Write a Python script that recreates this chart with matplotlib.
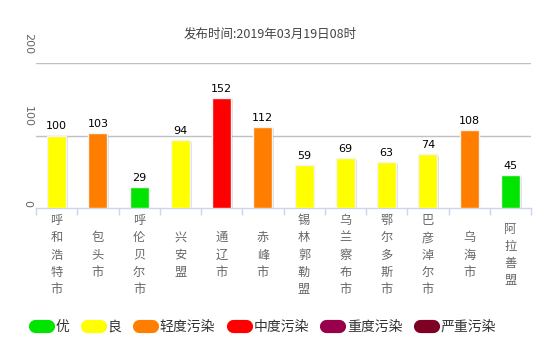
import matplotlib
matplotlib.use('Agg')
import matplotlib.pyplot as plt
import matplotlib.patheffects as pe
from matplotlib.lines import Line2D

plt.rcParams['font.family'] = ['Noto Sans CJK SC', 'DejaVu Sans']

cities = ['呼和浩特市', '包头市', '呼伦贝尔市', '兴安盟', '通辽市', '赤峰市',
          '锡林郭勒盟', '乌兰察布市', '鄂尔多斯市', '巴彦淖尔市', '乌海市', '阿拉善盟']
aqi = [100, 103, 29, 94, 152, 112, 59, 69, 63, 74, 108, 45]
levels = ['良', '轻度污染', '优', '良', '中度污染', '轻度污染',
          '良', '良', '良', '良', '轻度污染', '优']

level_names = ['优', '良', '轻度污染', '中度污染', '重度污染', '严重污染']
level_colors = ['#00E400', '#FFFF00', '#FF7E00', '#FF0000', '#99004C', '#7E0023']
color_of = dict(zip(level_names, level_colors))

fig = plt.figure(figsize=(5.44, 3.46), dpi=100)
W, H = 544, 346
ax = fig.add_axes([36 / W, (H - 208) / H, 495 / W, (208 - 63) / H])

x = list(range(len(cities)))
bars = ax.bar(x, aqi, width=0.46, color=[color_of[l] for l in levels],
              edgecolor='#f4f4f4', linewidth=1.0, zorder=3)
for b in bars:
    b.set_path_effects([pe.SimplePatchShadow(offset=(1.2, -1.2), shadow_rgbFace='#000000', alpha=0.12),
                        pe.Normal()])

for xi, v in zip(x, aqi):
    ax.annotate(str(v), (xi, v), xytext=(0, 3), textcoords='offset points',
                ha='center', va='bottom', fontsize=8, color='#000000',
                family=['DejaVu Sans'], zorder=4)

ax.set_xlim(-0.5, len(cities) - 0.5)
ax.set_ylim(0, 200)

for gy in [100, 200]:
    ax.axhline(gy, color='#c0c0c0', linewidth=1, zorder=1)

for s in ['top', 'right', 'left']:
    ax.spines[s].set_visible(False)
ax.spines['bottom'].set_color('#ccd6eb')
ax.spines['bottom'].set_linewidth(1)

ax.set_yticks([])
ax.set_xticks([i - 0.5 for i in range(len(cities) + 1)])
ax.set_xticklabels([])
ax.tick_params(axis='x', length=5, color='#ccd6eb', width=1)

# y-axis labels, rotated
for v in [0, 100, 200]:
    off = 1 if v == 0 else 9
    ax.annotate(str(v), (0, v), xycoords=('axes fraction', 'data'),
                xytext=(-6, off * 0.72), textcoords='offset points',
                rotation=-90, ha='center', va='bottom', fontsize=8,
                color='#666666', family=['DejaVu Sans'])

# vertical category labels
for xi, name in zip(x, cities):
    ax.annotate('\n'.join(name), (xi, 0), xycoords='data',
                xytext=(0, -47 * 0.72), textcoords='offset points',
                ha='center', va='center', fontsize=8.8, color='#666666',
                linespacing=1.42)

fig.text(270 / W, 1 - 34 / H, '发布时间:2019年03月19日08时', ha='center', va='center',
         fontsize=9, color='#444444')

handles = [Line2D([0], [0], color=c, lw=9.5, solid_capstyle='round') for c in level_colors]
fig.legend(handles, level_names, loc='center', bbox_to_anchor=(0.488, 1 - 327 / H),
           ncol=6, frameon=False, fontsize=10, handlelength=0.95, handletextpad=0.55,
           columnspacing=1.25, labelcolor='#333333')

fig.savefig('out.png', dpi=100)
